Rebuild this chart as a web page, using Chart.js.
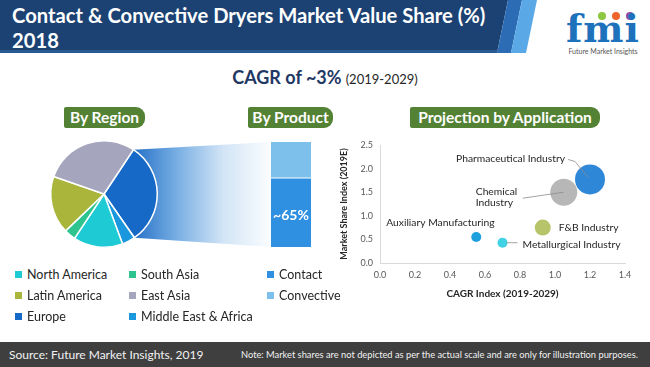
<!DOCTYPE html>
<html>
<head>
<meta charset="utf-8">
<script src="https://cdn.jsdelivr.net/npm/chart.js@4.4.1/dist/chart.umd.min.js"></script>
<style>
  html, body { margin: 0; padding: 0; background: #fff; }
  body { font-family: Lato, "Open Sans", sans-serif; }
  #page { position: relative; width: 650px; height: 367px; overflow: hidden; background: #fff; }
  .abs { position: absolute; }
  .band { position: absolute; left: 0; top: 0; width: 650px; height: 53px; }
  #title { left: 12px; top: 3px; color: #fff; font-weight: 700; font-size: 20.2px; line-height: 25px; white-space: nowrap; }
  #cagr { left: 0; width: 650px; top: 66px; text-align: center; color: #1F3864; white-space: nowrap; }
  #cagr b { font-size: 18px; }
  #cagr span { font-size: 13px; color: #262626; }
  .pill { position: absolute; height: 21px; line-height: 21px; background: #548235; color: #fff; font-weight: 700;
          font-size: 15.5px; text-align: center; border-radius: 2px 9px 9px 2px; white-space: nowrap; }
  .leg { position: absolute; font-size: 12.5px; color: #262626; white-space: nowrap; line-height: 16px; }
  .leg i { display: inline-block; width: 7px; height: 7px; margin-right: 5px; vertical-align: 1px; }
  #foot { left: 0; top: 342px; width: 650px; height: 25px; background: #3F3F3F; }
  #src { left: 9px; top: 347px; color: #F2F2F2; font-size: 12px; white-space: nowrap; }
  #note { left: 241px; top: 349px; color: #F2F2F2; font-size: 9.3px; white-space: nowrap; }
  #logo { left: 565px; top: 4px; width: 76px; height: 52px; }
  canvas { position: absolute; }
</style>
</head>
<body>
<div id="page">
  <div class="band" style="background:#1C4273;clip-path:polygon(0 0,508px 0,497px 53px,0 53px)"></div>
  <div class="band" style="background:#2C6CB4;clip-path:polygon(508px 0,522px 0,511px 53px,497px 53px)"></div>
  <div class="band" style="background:#5AA9E6;clip-path:polygon(522px 0,537px 0,526px 53px,511px 53px)"></div>
  <div class="band" style="top:50px;height:3px;background:#2A5A92;clip-path:polygon(0 0,497.5px 0,497px 3px,0 3px)"></div>
  <div id="title" class="abs">Contact &amp; Convective Dryers Market Value Share (%)<br>2018</div>

  <div id="logo" class="abs">
    <div style="position:absolute;left:33px;top:8px;width:8px;height:8px;border-radius:50%;background:#8DC63F"></div>
    <div style="position:absolute;left:47px;top:8px;width:8px;height:8px;border-radius:50%;background:#F0662A"></div>
    <div style="position:absolute;left:61px;top:8px;width:8px;height:8px;border-radius:50%;background:#93479B"></div>
    <div style="position:absolute;left:0;top:4px;width:76px;text-align:center;font-family:'DejaVu Serif',serif;font-weight:700;font-size:38px;line-height:42px;color:#1E72BC;letter-spacing:1px">fmi</div>
    <div style="position:absolute;left:0;top:43px;width:76px;text-align:center;font-size:7px;color:#555">Future Market Insights</div>
  </div>

  <div id="cagr" class="abs"><b>CAGR of ~3%</b> <span>(2019-2029)</span></div>

  <div class="pill" style="left:64px;top:107px;width:81px">By Region</div>
  <div class="pill" style="left:248px;top:107px;width:85px">By Product</div>
  <div class="pill" style="left:410px;top:107px;width:190px">Projection by Application</div>

  <canvas id="pieChart" width="272" height="112" style="left:0;top:138px"></canvas>
  <canvas id="barChart" width="40" height="105" style="left:271px;top:142px"></canvas>
  <canvas id="bubbleChart" width="320" height="180" style="left:330px;top:130px"></canvas>

  <div id="legend"></div>

  <div id="foot" class="abs"></div>
  <div id="src" class="abs">Source: Future Market Insights, 2019</div>
  <div id="note" class="abs">Note: Market shares are not depicted as per the actual scale and are only for illustration purposes.</div>
</div>

<script>
// Region split (pie, clockwise from Europe)
const regions = ["Europe", "Middle East & Africa", "North America", "South Asia", "Latin America", "East Asia"];
const regionShare = [31, 4, 15, 3.5, 17.5, 29];
const regionColors = ["#1769C7", "#1B97DD", "#1ECAD3", "#2EC48F", "#A9B53B", "#A5A6BE"];

// Product split (stacked bar)
const products = ["Contact", "Convective"];
const productShare = [65, 35];
const productColors = ["#2F8FE0", "#7CC0EB"];

// Application bubbles
const applications = ["Pharmaceutical Industry", "Chemical Industry", "F&B Industry", "Auxiliary Manufacturing", "Metallurgical Industry"];
const cagrIndex = [1.2, 1.05, 0.93, 0.55, 0.7];
const shareIndex = [1.77, 1.5, 0.75, 0.55, 0.43];
const bubbleSize = [15, 13.5, 8, 5, 5];
const appColors = ["#2F87D8", "#B7B7B7", "#B8C46A", "#1EA0DC", "#40D2E3"];

const xTicks = [0, 0.2, 0.4, 0.6, 0.8, 1.0, 1.2, 1.4];
const yTicks = [0, 0.5, 1.0, 1.5, 2.0, 2.5];

Chart.defaults.font.family = "Lato, 'Open Sans', sans-serif";
Chart.defaults.animation = false;

// Legend (three columns, same layout as the reference)
const legendRows = [
  ["North America", "South Asia", "Contact"],
  ["Latin America", "East Asia", "Convective"],
  ["Europe", "Middle East & Africa", null],
];
const legendCols = [15, 129, 267];
const colorOf = (name) => {
  const r = regions.indexOf(name);
  if (r >= 0) return regionColors[r];
  return productColors[products.indexOf(name)];
};
const legend = document.getElementById("legend");
legendRows.forEach((row, ri) => {
  row.forEach((name, ci) => {
    if (!name) return;
    const el = document.createElement("div");
    el.className = "leg";
    el.style.left = legendCols[ci] + "px";
    el.style.top = 267 + ri * 21 + "px";
    el.innerHTML = '<i style="background:' + colorOf(name) + '"></i>' + name.replace("&", "&amp;");
    legend.appendChild(el);
  });
});

// By Product bar
const barChart = new Chart(document.getElementById("barChart"), {
  type: "bar",
  data: {
    labels: ["Product"],
    datasets: products.map((p, i) => ({
      label: p,
      data: [productShare[i]],
      backgroundColor: productColors[i],
      borderColor: "#fff",
      borderWidth: i === 1 ? { top: 0, left: 0, right: 0, bottom: 1.5 } : 0,
      borderSkipped: false,
      barPercentage: 1,
      categoryPercentage: 1,
    })),
  },
  options: {
    responsive: false,
    layout: { padding: 0 },
    scales: {
      x: { stacked: true, display: false },
      y: { stacked: true, display: false, min: 0, max: 100 },
    },
    plugins: { legend: { display: false }, tooltip: { enabled: false } },
  },
  plugins: [{
    id: "shareLabel",
    afterDatasetsDraw(chart) {
      const el = chart.getDatasetMeta(0).data[0];
      const ctx = chart.ctx;
      ctx.save();
      ctx.fillStyle = "#fff";
      ctx.font = "bold 14px Lato, sans-serif";
      ctx.textAlign = "center";
      ctx.textBaseline = "middle";
      ctx.fillText("~" + productShare[0] + "%", el.x, (el.y + el.base) / 2 + 3);
      ctx.restore();
    },
  }],
});

// By Region pie with gradient band to the product bar
const funnel = {
  id: "funnel",
  beforeDatasetsDraw(chart) {
    const arc = chart.getDatasetMeta(0).data[0];
    const ctx = chart.ctx;
    const pieTop = chart.canvas.offsetTop;
    const barTop = barChart.canvas.offsetTop;
    const top = barChart.getDatasetMeta(1).data[0].y + barTop - pieTop;
    const bot = barChart.getDatasetMeta(0).data[0].base + barTop - pieTop;
    const right = barChart.canvas.offsetLeft - chart.canvas.offsetLeft;
    const R = arc.outerRadius;
    const a0 = arc.startAngle, a1 = arc.endAngle;
    const x0 = arc.x + R * Math.cos(a0), y0 = arc.y + R * Math.sin(a0);
    const x1 = arc.x + R * Math.cos(a1), y1 = arc.y + R * Math.sin(a1);
    const g = ctx.createLinearGradient(arc.x + R * 0.6, 0, right, 0);
    g.addColorStop(0, "#2A74C8");
    g.addColorStop(0.3, "#77AEE3");
    g.addColorStop(0.65, "#D3E5F6");
    g.addColorStop(1, "#FBFDFF");
    ctx.save();
    ctx.beginPath();
    ctx.moveTo(x0, y0);
    ctx.lineTo(right, top);
    ctx.lineTo(right, bot);
    ctx.lineTo(x1, y1);
    ctx.closePath();
    ctx.fillStyle = g;
    ctx.fill();
    ctx.restore();
  },
};

new Chart(document.getElementById("pieChart"), {
  type: "pie",
  data: {
    labels: regions,
    datasets: [{
      data: regionShare,
      backgroundColor: regionColors,
      borderColor: "#fff",
      borderWidth: 1.5,
    }],
  },
  options: {
    responsive: false,
    rotation: 33.6,
    layout: { padding: { left: 50, right: 114, top: 2, bottom: 2 } },
    plugins: { legend: { display: false }, tooltip: { enabled: false } },
  },
  plugins: [funnel],
});

// Projection by Application bubbles
const labelStyle = [
  { lines: ["Pharmaceutical Industry"], dx: -134, dy: -21, leader: [[-22, -20], [-15, -18], [-2, -2]] },
  { lines: ["Chemical", "Industry"], dx: -88, dy: -1, leader: [[-41, 6], [0, 0]] },
  { lines: ["F&B Industry"], dx: 16, dy: 0 },
  { lines: ["Auxiliary Manufacturing"], dx: -90, dy: -14 },
  { lines: ["Metallurgical Industry"], dx: 20, dy: 2, leader: [[4, 0], [15, 0]] },
];

const bubbleLabels = {
  id: "bubbleLabels",
  afterDatasetsDraw(chart) {
    const ctx = chart.ctx;
    const pts = chart.getDatasetMeta(0).data;
    ctx.save();
    pts.forEach((p, i) => {
      const s = labelStyle[i];
      if (s.leader) {
        ctx.strokeStyle = "#8C8C8C";
        ctx.lineWidth = 0.8;
        ctx.beginPath();
        s.leader.forEach(([lx, ly], k) => {
          if (k === 0) ctx.moveTo(p.x + lx, p.y + ly);
          else ctx.lineTo(p.x + lx, p.y + ly);
        });
        ctx.stroke();
      }
      ctx.fillStyle = "#262626";
      ctx.font = "10.3px Lato, sans-serif";
      ctx.textAlign = "left";
      ctx.textBaseline = "middle";
      s.lines.forEach((t, k) => ctx.fillText(t, p.x + s.dx, p.y + s.dy + k * 11));
    });
    ctx.restore();
  },
};

const axisFont = { size: 9 };
new Chart(document.getElementById("bubbleChart"), {
  type: "bubble",
  data: {
    datasets: [{
      label: "Applications",
      data: applications.map((a, i) => ({ x: cagrIndex[i], y: shareIndex[i], r: bubbleSize[i] })),
      backgroundColor: appColors,
      borderWidth: 0,
    }],
  },
  options: {
    responsive: false,
    layout: { padding: { top: 13, right: 25, left: 0, bottom: 0 } },
    scales: {
      x: {
        type: "linear",
        min: xTicks[0],
        max: xTicks[xTicks.length - 1],
        afterBuildTicks: (s) => { s.ticks = xTicks.map((v) => ({ value: v })); },
        afterFit: (s) => { s.height = 47; },
        ticks: { font: axisFont, color: "#595959", padding: 7, autoSkip: false, callback: (v) => v.toFixed(1) },
        grid: { display: false, drawTicks: false },
        border: { color: "#D9D9D9" },
        title: { display: true, text: "CAGR Index (2019-2029)", color: "#262626",
                 font: { size: 10, weight: "bold" }, padding: { top: 0, bottom: 10 } },
      },
      y: {
        type: "linear",
        min: yTicks[0],
        max: yTicks[yTicks.length - 1],
        afterBuildTicks: (s) => { s.ticks = yTicks.map((v) => ({ value: v })); },
        afterFit: (s) => { s.width = 50; },
        ticks: { font: axisFont, color: "#595959", padding: 7, autoSkip: false, callback: (v) => v.toFixed(1) },
        grid: { display: false, drawTicks: false },
        border: { color: "#D9D9D9" },
        title: { display: true, text: "Market Share Index (2019E)", color: "#262626",
                 font: { size: 9, weight: "bold" }, padding: { top: 9, bottom: 0 } },
      },
    },
    plugins: { legend: { display: false }, tooltip: { enabled: false } },
  },
  plugins: [bubbleLabels],
});
</script>
</body>
</html>
